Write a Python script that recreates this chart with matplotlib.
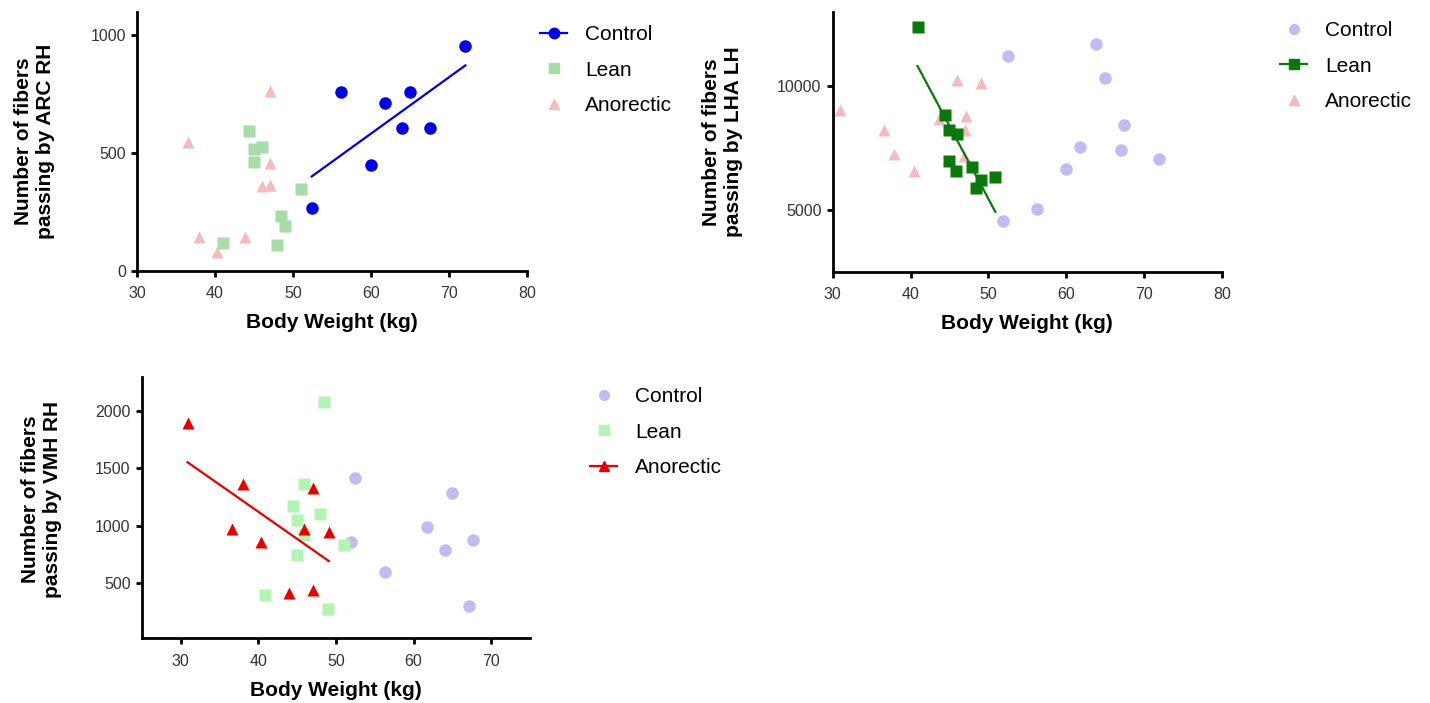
import matplotlib
matplotlib.use("Agg")
import matplotlib.pyplot as plt
from matplotlib.lines import Line2D
import numpy as np

plt.rcParams['font.family'] = ['Liberation Sans', 'DejaVu Sans']

# ---- data ----
# ARC RH
arc_control_w = [52.4, 56.2, 60.0, 61.8, 64.0, 65.0, 67.5, 72.1]
arc_control = [265, 760, 448, 713, 606, 760, 607, 954]
arc_lean_w = [44.4, 45.0, 46.0, 45.0, 51.0, 48.5, 49.0, 48.0, 41.0]
arc_lean = [595, 515, 527, 463, 347, 232, 190, 108, 119]
arc_anor_w = [47.0, 36.6, 47.1, 46.0, 47.0, 37.9, 43.9, 40.3]
arc_anor = [764, 547, 456, 359, 366, 144, 144, 78]

# LHA LH
lha_control_w = [52.5, 63.9, 65.0, 67.4, 61.8, 67.0, 72.0, 60.0, 56.2, 51.9]
lha_control = [11200, 11708, 10308, 8440, 7548, 7428, 7040, 6628, 5016, 4536]
lha_lean_w = [40.9, 44.4, 44.9, 46.0, 44.9, 45.9, 47.9, 49.0, 48.4, 50.9]
lha_lean = [12388, 8816, 8228, 8068, 6988, 6548, 6748, 6188, 5868, 6320]
lha_anor_w = [46.0, 49.0, 30.9, 47.1, 43.7, 47.0, 36.6, 37.9, 46.9, 40.4]
lha_anor = [10256, 10108, 9016, 8788, 8656, 8228, 8228, 7268, 7160, 6560]

# VMH RH
vmh_control_w = [52.5, 65.0, 61.8, 67.6, 64.1, 52.0, 56.3, 67.1]
vmh_control = [1417, 1289, 992, 873, 789, 861, 597, 300]
vmh_lean_w = [48.5, 45.9, 44.5, 48.0, 45.0, 45.9, 51.0, 45.0, 40.9, 49.0]
vmh_lean = [2081, 1362, 1176, 1106, 1048, 922, 835, 742, 398, 279]
vmh_anor_w = [30.9, 38.0, 47.1, 36.6, 45.9, 49.1, 40.4, 44.0, 47.0]
vmh_anor = [1895, 1368, 1333, 975, 975, 949, 861, 419, 439]

groups = ['Control', 'Lean', 'Anorectic']

BLUE = '#0000E6'
LAVENDER = '#BDBDF3'
DKGREEN = '#0B780B'
LTGREEN = '#A8DCA8'
LTGREEN2 = '#B3F3B3'
PINK = '#F5BABA'
RED = '#E60000'

fig = plt.figure(figsize=(14.3, 7.03), dpi=100)
W, H = 1430, 703


def make_ax(x0, x1, ytop, ybot):
    return fig.add_axes([x0 / W, 1 - ybot / H, (x1 - x0) / W, (ybot - ytop) / H])


def style(ax, xlim, ylim, xticks, yticks, ylabel, ylab_x, ylab_y):
    ax.set_xlim(*xlim)
    ax.set_ylim(*ylim)
    ax.set_xticks(xticks)
    ax.set_yticks(yticks)
    for s in ['top', 'right']:
        ax.spines[s].set_visible(False)
    for s in ['left', 'bottom']:
        ax.spines[s].set_linewidth(2.0)
    ax.tick_params(width=2.0, length=4, labelsize=11.5, labelcolor='#333333', pad=4)
    ax.tick_params(axis='x', pad=7)
    ax.set_xlabel('Body Weight (kg)', fontsize=15, fontweight='bold', labelpad=9)
    ax.set_ylabel(ylabel, fontsize=15, fontweight='bold', linespacing=1.2)
    ax.yaxis.set_label_coords(ylab_x, ylab_y)


def fit_line(ax, w, v, color):
    w = np.asarray(w, float)
    v = np.asarray(v, float)
    k, b = np.polyfit(w, v, 1)
    xs = np.array([w.min(), w.max()])
    ax.plot(xs, k * xs + b, color=color, lw=1.6, zorder=4)


def legend(ax, handles, x, y):
    ax.legend(handles=handles, labels=groups, loc='upper left',
              bbox_to_anchor=(x / W, 1 - y / H), bbox_transform=fig.transFigure,
              frameon=False, fontsize=15, handlelength=1.3, handletextpad=0.85,
              labelspacing=0.8, borderpad=0, borderaxespad=0, numpoints=1)


ms = 8.5

# ---- panel 1: ARC RH ----
ax1 = make_ax(137, 527, 11.7, 270.7)
ax1.plot(arc_lean_w, arc_lean, 's', color=LTGREEN, ms=ms, mec='none', zorder=2)
ax1.plot(arc_anor_w, arc_anor, '^', color=PINK, ms=ms, mec='none', zorder=2)
ax1.plot(arc_control_w, arc_control, 'o', color=BLUE, ms=ms + 0.5, mec='none', zorder=3)
fit_line(ax1, arc_control_w, arc_control, BLUE)
style(ax1, (30, 80), (0, 1100), range(30, 81, 10), [0, 500, 1000],
      'Number of fibers\npassing by ARC RH', -0.21, 0.5)
legend(ax1, [Line2D([], [], color=BLUE, marker='o', ms=ms - 1, lw=1.6),
             Line2D([], [], color=LTGREEN, marker='s', ls='none', ms=ms - 1.5),
             Line2D([], [], color=PINK, marker='^', ls='none', ms=ms - 1.5)], 540, 25)

# ---- panel 2: LHA LH ----
ax2 = make_ax(832.7, 1221.7, 11.7, 271.7)
ax2.plot(lha_control_w, lha_control, 'o', color=LAVENDER, ms=ms + 0.5, mec='none', zorder=2)
ax2.plot(lha_anor_w, lha_anor, '^', color=PINK, ms=ms, mec='none', zorder=2)
ax2.plot(lha_lean_w, lha_lean, 's', color=DKGREEN, ms=ms, mec='none', zorder=3)
fit_line(ax2, lha_lean_w, lha_lean, DKGREEN)
style(ax2, (30, 80), (2500, 13000), range(30, 81, 10), [5000, 10000],
      'Number of fibers\npassing by LHA LH', -0.23, 0.5)
legend(ax2, [Line2D([], [], color=LAVENDER, marker='o', ls='none', ms=ms - 1.5),
             Line2D([], [], color=DKGREEN, marker='s', ms=ms - 1, lw=1.6),
             Line2D([], [], color=PINK, marker='^', ls='none', ms=ms - 1.5)], 1280, 21)

# ---- panel 3: VMH RH ----
ax3 = make_ax(141.7, 530, 376.7, 638.3)
ax3.plot(vmh_control_w, vmh_control, 'o', color=LAVENDER, ms=ms + 0.5, mec='none', zorder=2)
ax3.plot(vmh_lean_w, vmh_lean, 's', color=LTGREEN2, ms=ms, mec='none', zorder=2)
ax3.plot(vmh_anor_w, vmh_anor, '^', color=RED, ms=ms + 0.5, mec='none', zorder=3)
fit_line(ax3, vmh_anor_w, vmh_anor, RED)
style(ax3, (25, 75), (20, 2300), range(30, 71, 10), [500, 1000, 1500, 2000],
      'Number of fibers\npassing by VMH RH', -0.205, 0.53)
legend(ax3, [Line2D([], [], color=LAVENDER, marker='o', ls='none', ms=ms - 1.5),
             Line2D([], [], color=LTGREEN2, marker='s', ls='none', ms=ms - 1.5),
             Line2D([], [], color=RED, marker='^', ms=ms - 1, lw=1.6)], 590, 387)

fig.savefig('out.png', dpi=100, facecolor='white')
